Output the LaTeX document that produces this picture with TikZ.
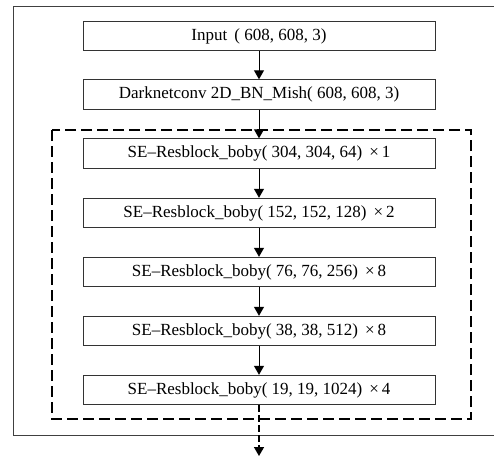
\documentclass[tikz,border=0pt]{standalone}
\usepackage{fontspec}
\setmainfont{Liberation Serif}
\usetikzlibrary{arrows.meta}
\begin{document}
\begin{tikzpicture}[x=1pt,y=-1pt,
  blk/.style={draw=black!80,line width=0.9pt,minimum width=352pt,minimum height=29.5pt,inner sep=0pt,font=\fontsize{17}{19}\selectfont,fill=white},
  arr/.style={draw=black,line width=1pt,-{Triangle[length=9pt,width=10pt]}},
  dsh/.style={draw=black,line width=1.6pt,dash pattern=on 11pt off 5pt}]
\useasboundingbox (0,0) rectangle (494,463);
\fill[white] (0,0) rectangle (494,463);
\draw[black!75,line width=0.9pt] (494,6) -- (13,6) -- (13,435) -- (494,435);
\draw[dsh] (52,130) rectangle (471,419);
\node[blk] (in) at (259,36) {Input \,( 608, 608, 3)};
\node[blk] (dk) at (259,94.5) {Darknetconv 2D\_BN\_Mish( 608, 608, 3)};
\node[blk] (s1) at (259,153.5) {SE–Resblock\_boby( 304, 304, 64) \,×\,1};
\node[blk] (s2) at (259,213) {SE–Resblock\_boby( 152, 152, 128) \,×\,2};
\node[blk] (s3) at (259,272) {SE–Resblock\_boby( 76, 76, 256) \,×\,8};
\node[blk] (s4) at (259,331) {SE–Resblock\_boby( 38, 38, 512) \,×\,8};
\node[blk] (s5) at (259,390) {SE–Resblock\_boby( 19, 19, 1024) \,×\,4};
\coordinate (out) at (259,456);
\draw[arr] (in) -- (dk);
\draw[arr] (dk) -- (s1);
\draw[arr] (s1) -- (s2);
\draw[arr] (s2) -- (s3);
\draw[arr] (s3) -- (s4);
\draw[arr] (s4) -- (s5);
\draw[arr,line width=1.4pt,dash pattern=on 7pt off 3pt] (s5) -- (out);
\end{tikzpicture}
\end{document}
